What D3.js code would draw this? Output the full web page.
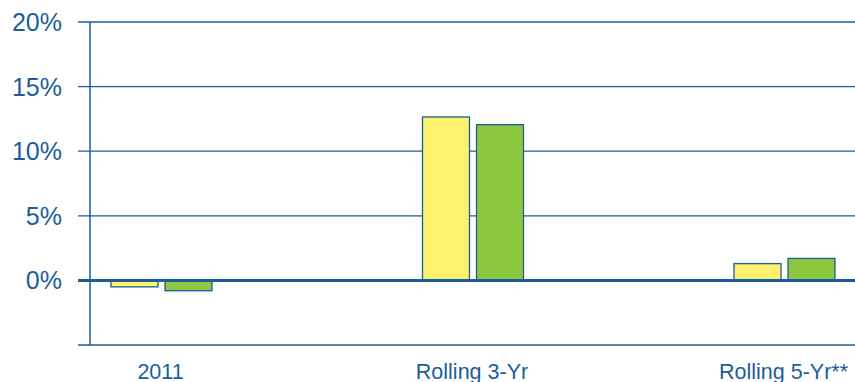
<!DOCTYPE html>
<html>
<head>
<meta charset="utf-8">
<script src="https://cdn.jsdelivr.net/npm/d3@7"></script>
<style>
  body { margin: 0; background: #fff; }
  svg { display: block; font-family: Arial, "Liberation Sans", sans-serif; }
</style>
</head>
<body>
<svg width="855" height="382"></svg>
<script>
const categories = ["2011", "Rolling 3-Yr", "Rolling 5-Yr**"];
const seriesNames = ["Fund", "Benchmark"];
const fundValues = [-0.5, 12.65, 1.3];
const benchValues = [-0.8, 12.05, 1.7];
const yTicks = [-5, 0, 5, 10, 15, 20];
const yTickLabels = ["", "0%", "5%", "10%", "15%", "20%"];

const blue = "#1c5d9a";
const colors = { Fund: "#fdf26e", Benchmark: "#8dc63f" };

const svg = d3.select("svg");
const axisX = 90;

const y = d3.scaleLinear().domain([-5, 20]).range([345, 22]);
const x0 = d3.scalePoint().domain(categories).range([161.5, 784.5]);
const x1 = d3.scaleBand().domain(seriesNames).range([-50.5, 50.5]).paddingInner(0.13);

// gridlines + tick labels
const grid = svg.append("g");
grid.selectAll("line")
    .data(yTicks)
    .enter().append("line")
    .attr("x1", 78)
    .attr("x2", 855)
    .attr("y1", d => y(d))
    .attr("y2", d => y(d))
    .attr("stroke", blue)
    .attr("stroke-width", 1.3);

grid.selectAll("text")
    .data(yTicks)
    .enter().append("text")
    .attr("x", 62)
    .attr("y", d => y(d))
    .attr("dy", "0.36em")
    .attr("text-anchor", "end")
    .attr("fill", blue)
    .style("font-size", "25px")
    .text((d, i) => yTickLabels[i]);

// vertical axis
svg.append("line")
    .attr("x1", axisX).attr("x2", axisX)
    .attr("y1", y(20)).attr("y2", y(-5))
    .attr("stroke", blue)
    .attr("stroke-width", 1.5);

// bars
const rows = categories.map((c, i) => ({
    cat: c,
    vals: [
        { key: "Fund", v: fundValues[i] },
        { key: "Benchmark", v: benchValues[i] }
    ]
}));

const groups = svg.selectAll(".cat")
    .data(rows)
    .enter().append("g")
    .attr("class", "cat")
    .attr("transform", d => `translate(${x0(d.cat)},0)`);

groups.selectAll("rect")
    .data(d => d.vals)
    .enter().append("rect")
    .attr("x", d => x1(d.key))
    .attr("width", x1.bandwidth())
    .attr("y", d => y(Math.max(0, d.v)))
    .attr("height", d => Math.abs(y(d.v) - y(0)))
    .attr("fill", d => colors[d.key])
    .attr("stroke", blue)
    .attr("stroke-width", 1.3);

// zero line on top
svg.append("line")
    .attr("x1", 78).attr("x2", 855)
    .attr("y1", y(0)).attr("y2", y(0))
    .attr("stroke", blue)
    .attr("stroke-width", 3);

// category labels (cut at the bottom edge, as in the reference)
svg.selectAll(".catlabel")
    .data(categories)
    .enter().append("text")
    .attr("class", "catlabel")
    .attr("x", d => x0(d) - 1)
    .attr("y", 379)
    .attr("text-anchor", "middle")
    .attr("fill", blue)
    .style("font-size", "21.5px")
    .text(d => d);
</script>
</body>
</html>
